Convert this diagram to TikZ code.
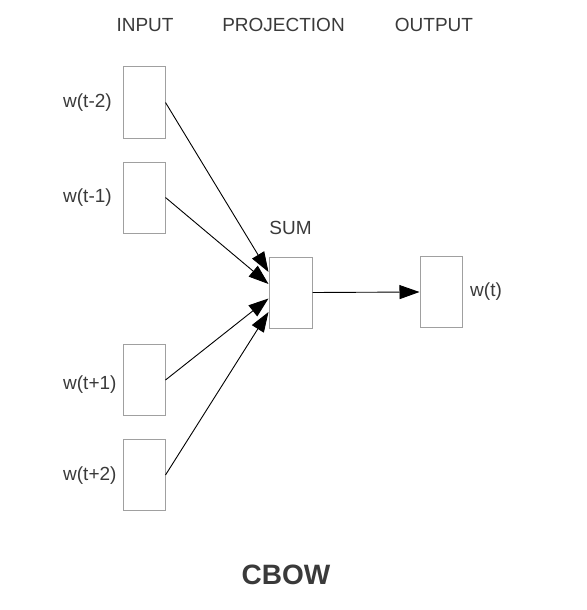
\documentclass[tikz,border=0pt]{standalone}
\usepackage{fontspec}
\setmainfont{Liberation Sans}
\usetikzlibrary{arrows.meta}
\definecolor{boxgray}{HTML}{A0A0A0}
\definecolor{txtgray}{HTML}{3A3A3A}
\tikzset{
  vecbox/.style={draw=boxgray, line width=1pt, minimum width=42pt, minimum height=71pt, inner sep=0pt, fill=white},
  lbl/.style={text=txtgray, inner sep=0pt, font=\fontsize{19}{22}\selectfont},
  conn/.style={line width=0.9pt, -{Triangle[length=20pt,width=14pt]}},
}
\begin{document}
\begin{tikzpicture}[x=1pt,y=-1pt]
\useasboundingbox (0,0) rectangle (586,610);
% headings
\node[lbl] (hin) at (145,25) {INPUT};
\node[lbl] (hproj) at (283.5,25) {PROJECTION};
\node[lbl] (hout) at (434,25) {OUTPUT};
% input boxes
\node[vecbox] (in1) at (144,102.5) {};
\node[vecbox] (in2) at (144,197.5) {};
\node[vecbox] (in3) at (144,380) {};
\node[vecbox] (in4) at (144,475) {};
\node[lbl, anchor=west] (l1) at (63,102.5) {w(t-2)};
\node[lbl, anchor=west] (l2) at (63,197.5) {w(t-1)};
\node[lbl, anchor=west] (l3) at (63,385) {w(t+1)};
\node[lbl, anchor=west] (l4) at (63,476) {w(t+2)};
% projection
\node[vecbox, minimum width=43pt] (sum) at (290.5,292.5) {};
\node[lbl] (suml) at (290.5,228) {SUM};
% output
\node[vecbox] (out) at (441,292) {};
\node[lbl, anchor=west] (outl) at (470,292) {w(t)};
% arrow tips on sum
\coordinate (t1) at ([yshift=20.5pt]sum.west);
\coordinate (t2) at ([yshift=8.5pt]sum.west);
\coordinate (t3) at ([yshift=-6pt]sum.west);
\coordinate (t4) at ([yshift=-19.5pt]sum.west);
\draw[conn] (in1.east) -- (t1);
\draw[conn] (in2.east) -- (t2);
\draw[conn] (in3.east) -- (t3);
\draw[conn] (in4.east) -- (t4);
\draw[conn] (sum.east) -- (out.west);
% title
\node[text=txtgray, inner sep=0pt, font=\fontsize{28}{32}\selectfont\bfseries] (title) at (286,575) {CBOW};
\end{tikzpicture}
\end{document}
